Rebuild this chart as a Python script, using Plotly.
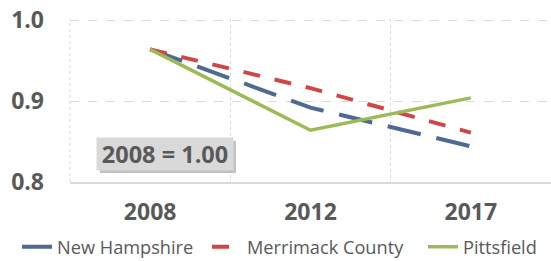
import plotly.graph_objects as go

years = ["2008", "2012", "2017"]
new_hampshire = [0.964, 0.892, 0.844]
merrimack = [0.964, 0.916, 0.861]
pittsfield = [0.964, 0.864, 0.904]
y_ticks = [0.8, 0.9, 1.0]
y_tick_labels = ["0.8", "0.9", "1.0"]
note_text = "2008 = 1.00"

FONT = "Open Sans"
GRAY = "#595959"

# page body margin is removed below (post_script), so figure coords = screen coords
W, H = 551, 261
PL, PR, PT, PB = 70, 551, 19, 182


def px(x):
    return (x - PL) / (PR - PL)


def py(y):
    return (PB - y) / (PB - PT)


fig = go.Figure()
fig.add_trace(go.Scatter(x=years, y=new_hampshire, name="New Hampshire", mode="lines",
                         line=dict(color="#4F6A92", width=4, dash="34px,16px"),
                         legend="legend"))
fig.add_trace(go.Scatter(x=years, y=merrimack, name="Merrimack County", mode="lines",
                         line=dict(color="#D04545", width=4, dash="17px,15px"),
                         legend="legend2"))
fig.add_trace(go.Scatter(x=years, y=pittsfield, name="Pittsfield", mode="lines",
                         line=dict(color="#9BBB59", width=3.5),
                         legend="legend3"))

# left dotted border of the plot area
fig.add_shape(type="line", xref="paper", yref="paper", x0=0, x1=0, y0=0, y1=1,
              line=dict(color="#D9D9D9", width=1, dash="dot"), layer="below")
# shadow of the note box
fig.add_shape(type="rect", xref="paper", yref="paper",
              x0=px(100), x1=px(236), y0=py(173), y1=py(141),
              fillcolor="rgba(120,120,120,0.45)", line=dict(width=0), layer="above")
fig.add_annotation(xref="paper", yref="paper", x=px(165), y=py(154),
                   text="<b>" + note_text + "</b>", showarrow=False,
                   font=dict(family=FONT, size=23.5, color=GRAY),
                   bgcolor="#D9D9D9", width=136, height=32, borderpad=0,
                   xanchor="center", yanchor="middle")


def leg(xs):
    return dict(orientation="h", x=px(xs), xanchor="left", y=py(247), yanchor="middle",
                font=dict(family=FONT, size=18.2, color=GRAY),
                bgcolor="rgba(0,0,0,0)", itemwidth=30)


fig.update_layout(
    width=W, height=H,
    margin=dict(l=PL, r=W - PR, t=PT, b=H - PB, autoexpand=False),
    paper_bgcolor="white", plot_bgcolor="white",
    font=dict(family=FONT, color=GRAY),
    showlegend=True,
    legend=leg(17), legend2=leg(207), legend3=leg(423),
)
fig.update_xaxes(type="category", range=[-0.5, 2.5], tickson="boundaries",
                 showgrid=True, gridcolor="#D9D9D9", griddash="dot", gridwidth=1,
                 showline=True, linecolor="#D9D9D9", linewidth=2,
                 ticks="", ticklabelstandoff=8,
                 tickfont=dict(family=FONT, size=23, color=GRAY, weight="bold"))
fig.update_yaxes(range=[0.8, 1.0015], tickvals=y_ticks, ticktext=y_tick_labels,
                 showgrid=True, gridcolor="#D9D9D9", griddash="dash", gridwidth=1,
                 zeroline=False, showline=False, ticks="", ticklabelstandoff=25,
                 ticklabeloverflow="allow",
                 tickfont=dict(family=FONT, size=23, color=GRAY, weight="bold"))

fig.write_html("out.html", config={"displayModeBar": False},
               post_script="document.body.style.margin='0';document.body.style.padding='0';")
